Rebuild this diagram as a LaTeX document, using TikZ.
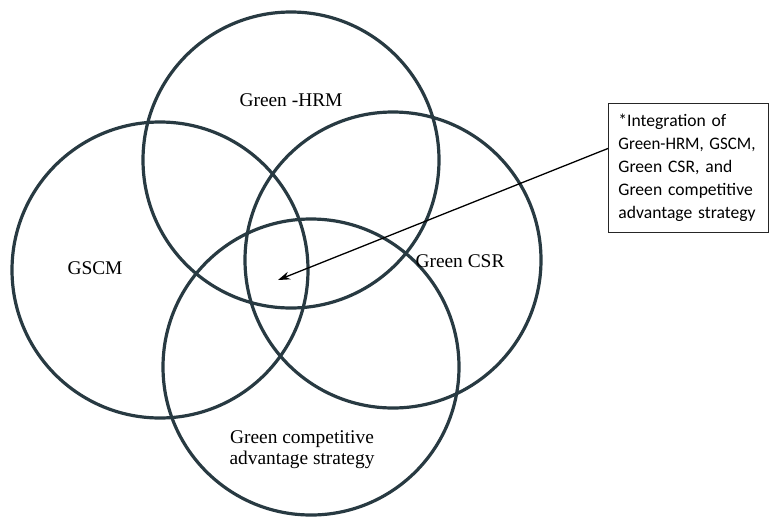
\documentclass[tikz,border=0pt]{standalone}
\usepackage{fontspec}
\usepackage{graphicx}
\setmainfont{Liberation Serif}
\newfontfamily\boxfont{Carlito}
\usetikzlibrary{arrows.meta}
\definecolor{ringcol}{RGB}{40,58,66}
\hyphenpenalty=10000
\begin{document}
\begin{tikzpicture}[x=1pt,y=-1pt,
 ring/.style={draw=ringcol, line width=3.2pt, circle, minimum size=296pt, inner sep=0pt},
 lbl/.style={font=\fontsize{19.4}{21}\selectfont, align=center},
 note/.style={draw=black!85, line width=0.9pt, font=\boxfont\fontsize{17.6}{23}\selectfont, align=left, minimum height=129pt, inner xsep=10pt, text width=140pt, anchor=north west},
 pointer/.style={-{Stealth[length=12pt,width=8pt]}, line width=1.3pt}]
\useasboundingbox (0,0) rectangle (770,517);
\node[ring] (hrm) at (291,160) {};
\node[ring] (gscm) at (160,270) {};
\node[ring] (csr) at (393,260) {};
\node[ring] (gcas) at (311,367) {};
\node[lbl] (lhrm) at (291,100) {Green -HRM};
\node[lbl] (lgscm) at (95,268) {GSCM};
\node[lbl] (lcsr) at (460,261) {Green CSR};
\node[lbl] (lgcas) at (302,450) {Green competitive\\advantage strategy};
\node[note] (note) at (608,103) {*Integration~of\\\resizebox{137pt}{\height}{Green-HRM, GSCM,}\\Green~CSR,~and\\Green~competitive\\advantage~strategy};
\coordinate (tip) at (278,280);
\draw[pointer] ([yshift=19.5pt]note.west) -- (tip);
\end{tikzpicture}
\end{document}
